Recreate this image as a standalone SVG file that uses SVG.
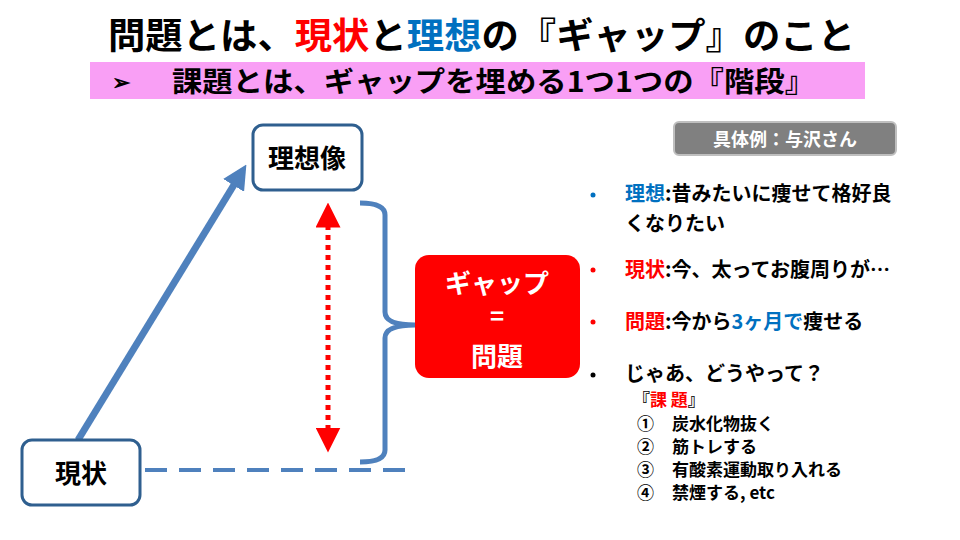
<svg xmlns="http://www.w3.org/2000/svg" width="960" height="540" viewBox="0 0 960 540">
<defs>
<style>
text{font-family:"Noto Sans CJK JP","Liberation Sans",sans-serif;font-weight:bold}
.node{fill:#fff;stroke:#2f5f8f;stroke-width:3}
.b{font-size:20px;fill:#000}
.s{font-size:17px;fill:#000}
.red{fill:#ff0000}.blue{fill:#0070c0}
</style>
<marker id="ab" viewBox="0 0 10 10" refX="5" refY="5" markerWidth="3.5" markerHeight="3.5" orient="auto"><path d="M0,0L10,5L0,10z" fill="#4f81bd"/></marker>
<marker id="ar" viewBox="0 0 10 10" refX="5" refY="5" markerWidth="5" markerHeight="5" orient="auto-start-reverse"><path d="M0,0L10,5L0,10z" fill="#ff0000"/></marker>
</defs>
<rect width="960" height="540" fill="#fff"/>
<text x="108" y="49" font-size="36" textLength="747" lengthAdjust="spacingAndGlyphs">問題とは、<tspan class="red">現状</tspan>と<tspan class="blue">理想</tspan>の『ギャップ』のこと</text>
<rect x="90" y="62" width="775" height="37" fill="#f99ff5"/>
<text x="112" y="90" font-size="22">➢</text>
<text x="172" y="92" font-size="28" textLength="643" lengthAdjust="spacingAndGlyphs">課題とは、ギャップを埋める1つ1つの『階段』</text>
<g id="connectors" fill="none">
<line x1="78" y1="440" x2="240" y2="175" stroke="#4f81bd" stroke-width="7" marker-end="url(#ab)"/>
<line x1="145" y1="470" x2="410" y2="470" stroke="#4f81bd" stroke-width="4" stroke-dasharray="22,12"/>
<line x1="328" y1="215" x2="328" y2="440" stroke="#ff0000" stroke-width="5" stroke-dasharray="5,5" marker-start="url(#ar)" marker-end="url(#ar)"/>
<path d="M360,203 Q385,203 385,215 L385,312 Q385,325 415,325 Q385,325 385,338 L385,450 Q385,462 360,462" stroke="#4f81bd" stroke-width="5"/>
</g>
<g id="ideal"><rect class="node" x="253" y="125" width="109" height="65" rx="10"/><text x="307" y="168" text-anchor="middle" font-size="26">理想像</text></g>
<g id="current"><rect class="node" x="22" y="440" width="118" height="65" rx="10"/><text x="81" y="483" text-anchor="middle" font-size="26">現状</text></g>
<g id="gap"><rect x="415" y="255" width="165" height="123" rx="14" fill="#ff0000"/>
<text x="497" y="293" text-anchor="middle" font-size="26" fill="#fff">ギャップ</text>
<text x="497" y="325" text-anchor="middle" font-size="24" fill="#fff">=</text>
<text x="497" y="366" text-anchor="middle" font-size="26" fill="#fff">問題</text></g>
<g id="example"><rect x="674" y="122" width="222" height="33" rx="5" fill="#808080" stroke="#bfbfbf" stroke-width="2"/>
<text x="785" y="146" text-anchor="middle" font-size="18" fill="#fff">具体例：与沢さん</text></g>
<g id="list">
<circle cx="593" cy="195" r="2.5" fill="#0070c0"/>
<text class="b" x="625" y="201"><tspan class="blue">理想</tspan>:昔みたいに痩せて格好良</text>
<text class="b" x="625" y="231">くなりたい</text>
<circle cx="593" cy="270" r="2.5" fill="#ff0000"/>
<text class="b" x="625" y="277"><tspan class="red">現状</tspan>:今、太ってお腹周りが…</text>
<circle cx="593" cy="322" r="2.5" fill="#ff0000"/>
<text class="b" x="625" y="329"><tspan class="red">問題</tspan>:今から<tspan class="blue">3ヶ月で</tspan>痩せる</text>
<circle cx="593" cy="375" r="2.5" fill="#000"/>
<text class="b" x="625" y="381">じゃあ、どうやって？</text>
<text class="s" x="633" y="406">『<tspan class="red">課 題</tspan>』</text>
<text class="s" x="637" y="430">①</text><text class="s" x="672" y="430">炭水化物抜く</text>
<text class="s" x="637" y="453">②</text><text class="s" x="672" y="453">筋トレする</text>
<text class="s" x="637" y="476">③</text><text class="s" x="672" y="476">有酸素運動取り入れる</text>
<text class="s" x="637" y="499">④</text><text class="s" x="672" y="499">禁煙する, etc</text>
</g>
</svg>
